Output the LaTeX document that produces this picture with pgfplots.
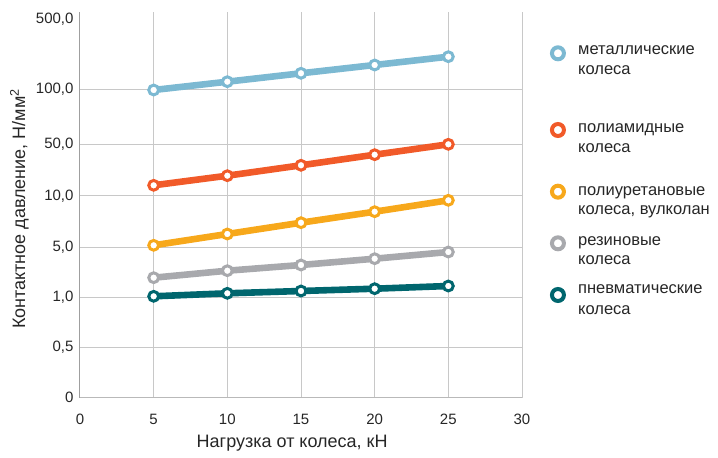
\documentclass[border=0pt]{standalone}
\usepackage{pgfplots}
\pgfplotsset{compat=1.18}
\usepackage{fontspec}
\setmainfont{Liberation Sans}
\definecolor{cmet}{HTML}{7CB9D2}
\definecolor{cpa}{HTML}{F15A29}
\definecolor{cpu}{HTML}{F7A81B}
\definecolor{crub}{HTML}{A8A9AD}
\definecolor{cpn}{HTML}{00666E}
\definecolor{gridc}{HTML}{C8C8C8}
% y values are positions on the chart's stepped pressure scale
% (0 -> 0, 0.5 -> 50.4, 1 -> 100.4, 5 -> 150.4, 10 -> 201.7, 50 -> 253.4, 100 -> 308.4, 500 -> 378)
\pgfplotstableread{
x y
5 307.7
10 316.0
15 324.4
20 332.7
25 341.0
}\tmet
\pgfplotstableread{
x y
5 212.4
10 222.0
15 232.4
20 243.0
25 253.4
}\tpa
\pgfplotstableread{
x y
5 152.4
10 163.7
15 175.0
20 186.0
25 197.4
}\tpu
\pgfplotstableread{
x y
5 120.0
10 127.0
15 132.7
20 139.0
25 145.7
}\trub
\pgfplotstableread{
x y
5 101.4
10 104.4
15 106.7
20 109.0
25 111.7
}\tpn
\begin{document}
\begin{tikzpicture}
\path[use as bounding box] (-80pt,-60.3pt) rectangle (638pt,397.7pt);
\begin{axis}[
  scale only axis, width=442pt, height=385.4pt,
  xmin=0, xmax=30, ymin=0, ymax=385.4,
  clip=false,
  axis x line=bottom, axis y line=left,
  x axis line style={-, draw=gray!55, line width=1pt},
  y axis line style={-, draw=gray!75, line width=1pt},
  xtick={0,5,10,15,20,25,30},
  xticklabels={0,5,10,15,20,25,30},
  ytick={0,50.4,100.4,150.4,201.7,253.4,308.4},
  yticklabels={0,{0,5},{1,0},{5,0},{10,0},{50,0},{100,0}},
  extra y ticks={378},
  extra y tick labels={500{,}0},
  extra y tick style={grid=none},
  major tick length=0pt,
  grid=major,
  major grid style={draw=gridc, line width=1pt},
  tick label style={font=\fontsize{15}{18}\selectfont, text=black!85},
  xticklabel style={yshift=-13pt},
  yticklabel style={xshift=-3pt},
  xlabel={Нагрузка от колеса, кН},
  ylabel={Контактное давление, Н/мм\textsuperscript{2}},
  label style={font=\fontsize{18}{21}\selectfont, text=black!85},
  xlabel style={at={(axis description cs:0.48,0)}, anchor=center, yshift=-45pt},
  ylabel style={at={(axis description cs:-0.137,0.49)}, anchor=center, rotate=0},
  mark size=4.9pt,
]
\addplot[cmet, line width=6.6pt, mark=*, mark options={fill=white, draw=cmet, line width=3pt}] table[x=x,y=y] {\tmet};
\addplot[cpa, line width=6.6pt, mark=*, mark options={fill=white, draw=cpa, line width=3pt}] table[x=x,y=y] {\tpa};
\addplot[cpu, line width=6.6pt, mark=*, mark options={fill=white, draw=cpu, line width=3pt}] table[x=x,y=y] {\tpu};
\addplot[crub, line width=6.6pt, mark=*, mark options={fill=white, draw=crub, line width=3pt}] table[x=x,y=y] {\trub};
\addplot[cpn, line width=6.6pt, mark=*, mark options={fill=white, draw=cpn, line width=3pt}] table[x=x,y=y] {\tpn};
% legend glyphs
\addplot[only marks, mark=*, mark size=6pt, mark options={fill=white, draw=cmet, line width=4pt}] coordinates {(32.44,344.4)};
\addplot[only marks, mark=*, mark size=6pt, mark options={fill=white, draw=cpa, line width=4pt}] coordinates {(32.44,267.7)};
\addplot[only marks, mark=*, mark size=6pt, mark options={fill=white, draw=cpu, line width=4pt}] coordinates {(32.44,206.0)};
\addplot[only marks, mark=*, mark size=6pt, mark options={fill=white, draw=crub, line width=4pt}] coordinates {(32.44,154.4)};
\addplot[only marks, mark=*, mark size=6pt, mark options={fill=white, draw=cpn, line width=4pt}] coordinates {(32.44,102.7)};
\begin{scope}[every node/.style={anchor=base west, inner sep=0pt, font=\fontsize{16.5}{19}\selectfont, text=black!85}]
\node at (axis cs:33.8,342.8) {металлические};
\node at (axis cs:33.8,323.5) {колеса};
\node at (axis cs:33.8,265.5) {полиамидные};
\node at (axis cs:33.8,245.5) {колеса};
\node at (axis cs:33.8,201.8) {полиуретановые};
\node at (axis cs:33.8,182.8) {колеса, вулколан};
\node at (axis cs:33.8,151.8) {резиновые};
\node at (axis cs:33.8,132.8) {колеса};
\node at (axis cs:33.8,104.2) {пневматические};
\node at (axis cs:33.8,83.5) {колеса};
\end{scope}
\end{axis}
\end{tikzpicture}
\end{document}
